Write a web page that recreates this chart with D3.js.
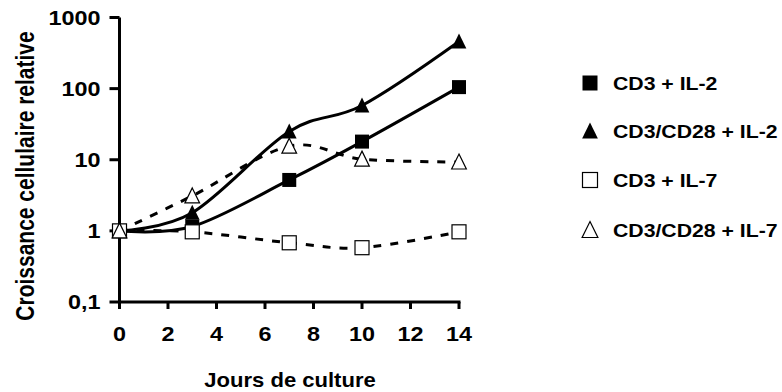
<!DOCTYPE html>
<html>
<head>
<meta charset="utf-8">
<script src="https://cdn.jsdelivr.net/npm/d3@7"></script>
<style>
  html, body { margin: 0; padding: 0; background: #fff; }
  svg { display: block; }
  text { font-family: "Liberation Sans", Arial, sans-serif; font-weight: bold; fill: #000; }
</style>
</head>
<body>
<svg id="chart" width="782" height="392"></svg>
<script>
// ---- data ----
const days = [0, 3, 7, 10, 14];
const cd3IL2 = [1, 1.15, 5.2, 18, 105];
const cd3cd28IL2 = [1, 1.8, 25, 58, 460];
const cd3IL7 = [1, 0.97, 0.68, 0.58, 0.97];
const cd3cd28IL7 = [1, 3.1, 15.5, 10.2, 9.3];
const seriesNames = ["CD3 + IL-2", "CD3/CD28 + IL-2", "CD3 + IL-7", "CD3/CD28 + IL-7"];
const xTicks = [0, 2, 4, 6, 8, 10, 12, 14];
const yTicks = [0.1, 1, 10, 100, 1000];
const yTickLabels = ["0,1", "1", "10", "100", "1000"];
const xTitle = "Jours de culture";
const yTitle = "Croissance cellulaire relative";

// ---- styles ----
const series = [
  { name: seriesNames[0], values: cd3IL2, shape: "square", filled: true, dashed: false },
  { name: seriesNames[1], values: cd3cd28IL2, shape: "triangle", filled: true, dashed: false },
  { name: seriesNames[2], values: cd3IL7, shape: "square", filled: false, dashed: true },
  { name: seriesNames[3], values: cd3cd28IL7, shape: "triangle", filled: false, dashed: true }
];

const svg = d3.select("#chart");
const x = d3.scaleLinear().domain([0, 14]).range([119.5, 459]);
const y = d3.scaleLog().domain([0.1, 1000]).range([302, 17.5]);

function stext(g, tx, ty, str, size, sx, anchor) {
  return g.append("text")
    .attr("transform", `translate(${tx},${ty}) scale(${sx},1)`)
    .attr("text-anchor", anchor)
    .style("font-size", size + "px")
    .text(str);
}

// axes
const axes = svg.append("g");
axes.append("line").attr("x1", x(0)).attr("x2", x(0)).attr("y1", y(1000)).attr("y2", y(0.1))
  .attr("stroke", "#000").attr("stroke-width", 3);
axes.append("line").attr("x1", x(0) - 1.5).attr("x2", x(14) + 1.5).attr("y1", y(0.1)).attr("y2", y(0.1))
  .attr("stroke", "#000").attr("stroke-width", 3);

yTicks.forEach((t, i) => {
  axes.append("line").attr("x1", x(0) - 10).attr("x2", x(0)).attr("y1", y(t)).attr("y2", y(t))
    .attr("stroke", "#000").attr("stroke-width", 3);
  stext(axes, 100.5, y(t) + 7, yTickLabels[i], 19.5, 1.2, "end");
});
xTicks.forEach(t => {
  axes.append("line").attr("x1", x(t)).attr("x2", x(t)).attr("y1", y(0.1)).attr("y2", y(0.1) + 7)
    .attr("stroke", "#000").attr("stroke-width", 3);
  stext(axes, x(t), 341, String(t), 19.5, 1.2, "middle");
});

// axis titles
stext(svg, 290, 387, xTitle, 21, 1.05, "middle");
svg.append("text")
  .attr("transform", `translate(34,176) rotate(-90) scale(1,1.2)`)
  .attr("text-anchor", "middle")
  .style("font-size", "21px")
  .text(yTitle);

// lines
const line = d3.line().x((d, i) => x(days[i])).y(d => y(d)).curve(d3.curveCatmullRom.alpha(0));
const plot = svg.append("g");
series.forEach(s => {
  plot.append("path").datum(s.values).attr("d", line)
    .attr("fill", "none").attr("stroke", "#000").attr("stroke-width", 3)
    .attr("stroke-dasharray", s.dashed ? "8,9" : null)
    .attr("stroke-linejoin", "round");
});

// markers
function marker(g, cx, cy, shape, filled, size) {
  if (shape === "square") {
    g.append("rect").attr("x", cx - size / 2).attr("y", cy - size / 2)
      .attr("width", size).attr("height", size)
      .attr("fill", filled ? "#000" : "#fff").attr("stroke", "#000").attr("stroke-width", filled ? 0 : 1.2);
  } else {
    const h = size;
    const w = size * 1.05;
    const pts = [[cx, cy - h / 2 - 1], [cx + w / 2, cy + h / 2], [cx - w / 2, cy + h / 2]];
    g.append("path").attr("d", "M" + pts.map(p => p.join(",")).join("L") + "Z")
      .attr("fill", filled ? "#000" : "#fff").attr("stroke", "#000").attr("stroke-width", filled ? 0 : 1.2)
      .attr("stroke-linejoin", "miter");
  }
}
series.forEach(s => {
  s.values.forEach((v, i) => marker(plot, x(days[i]), y(v), s.shape, s.filled, 14));
});

// legend
const legY = [83, 131, 180, 230];
const leg = svg.append("g");
series.forEach((s, i) => {
  marker(leg, 590, legY[i], s.shape, s.filled, 15);
  stext(leg, 613, legY[i] + 6.5, s.name, 18, 1.18, "start");
});
</script>
</body>
</html>
